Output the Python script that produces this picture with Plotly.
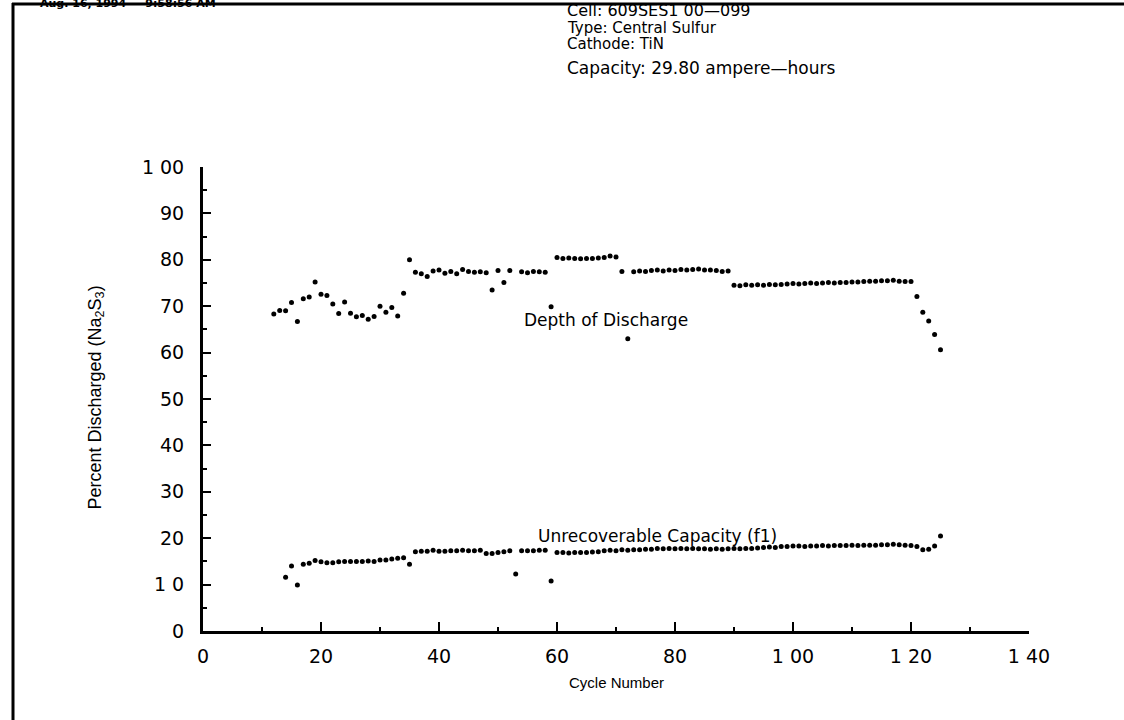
import plotly.graph_objects as go

# ---- data ----
dod_cycles = [12, 13, 14, 15, 16, 17, 18, 19, 20, 21, 22, 23, 24, 25, 26, 27, 28, 29, 30, 31,
              32, 33, 34, 35, 36, 37, 38, 39, 40, 41, 42, 43, 44, 45, 46, 47, 48, 49, 50, 51,
              52, 54, 55, 56, 57, 58, 59, 60, 61, 62, 63, 64, 65, 66, 67, 68, 69, 70, 71, 72,
              73, 74, 75, 76, 77, 78, 79, 80, 81, 82, 83, 84, 85, 86, 87, 88, 89, 90, 91, 92,
              93, 94, 95, 96, 97, 98, 99, 100, 101, 102, 103, 104, 105, 106, 107, 108, 109, 110,
              111, 112, 113, 114, 115, 116, 117, 118, 119, 120, 121, 122, 123, 124, 125]
dod_values = [68.3, 69.1, 69.0, 70.8, 66.7, 71.6, 72.0, 75.2, 72.6, 72.3, 70.5, 68.4, 70.9, 68.5,
              67.7, 68.0, 67.2, 67.8, 70.0, 68.7, 69.7, 67.9, 72.8, 80.0, 77.3, 77.0, 76.4, 77.6,
              77.8, 77.1, 77.5, 77.0, 77.9, 77.5, 77.3, 77.4, 77.2, 73.5, 77.7, 75.1, 77.7, 77.4,
              77.2, 77.5, 77.4, 77.3, 69.9, 80.5, 80.3, 80.4, 80.3, 80.2, 80.3, 80.3, 80.4, 80.5,
              80.8, 80.6, 77.5, 63.0, 77.4, 77.6, 77.5, 77.7, 77.8, 77.6, 77.8, 77.7, 77.9, 77.8,
              77.9, 78.0, 77.8, 77.8, 77.7, 77.5, 77.6, 74.5, 74.4, 74.6, 74.5, 74.6, 74.5, 74.7,
              74.6, 74.7, 74.8, 74.9, 74.8, 74.9, 75.0, 74.9, 75.0, 75.1, 75.0, 75.1, 75.1, 75.2,
              75.2, 75.3, 75.4, 75.4, 75.5, 75.5, 75.6, 75.4, 75.3, 75.3, 72.1, 68.7, 66.8, 63.9,
              60.6]

unrec_cycles = [14, 15, 16, 17, 18, 19, 20, 21, 22, 23, 24, 25, 26, 27, 28, 29, 30, 31, 32, 33,
                34, 35, 36, 37, 38, 39, 40, 41, 42, 43, 44, 45, 46, 47, 48, 49, 50, 51, 52, 53,
                54, 55, 56, 57, 58, 59, 60, 61, 62, 63, 64, 65, 66, 67, 68, 69, 70, 71, 72, 73,
                74, 75, 76, 77, 78, 79, 80, 81, 82, 83, 84, 85, 86, 87, 88, 89, 90, 91, 92, 93,
                94, 95, 96, 97, 98, 99, 100, 101, 102, 103, 104, 105, 106, 107, 108, 109, 110,
                111, 112, 113, 114, 115, 116, 117, 118, 119, 120, 121, 122, 123, 124, 125]
unrec_values = [11.6, 14.0, 9.9, 14.4, 14.6, 15.2, 14.9, 14.7, 14.7, 14.9, 15.0, 15.0, 15.0, 15.0,
                15.1, 15.0, 15.3, 15.3, 15.5, 15.7, 15.8, 14.4, 17.1, 17.2, 17.2, 17.4, 17.2, 17.2,
                17.3, 17.3, 17.4, 17.3, 17.3, 17.4, 16.7, 16.7, 16.9, 17.1, 17.3, 12.3, 17.3, 17.3,
                17.3, 17.4, 17.4, 10.8, 16.9, 16.9, 16.8, 16.9, 16.9, 16.9, 17.0, 17.1, 17.3, 17.4,
                17.3, 17.5, 17.4, 17.5, 17.5, 17.6, 17.6, 17.8, 17.7, 17.8, 17.7, 17.8, 17.7, 17.8,
                17.7, 17.7, 17.6, 17.7, 17.6, 17.7, 17.8, 17.7, 17.8, 17.8, 17.9, 18.0, 18.1, 18.0,
                18.2, 18.2, 18.3, 18.3, 18.2, 18.3, 18.3, 18.4, 18.3, 18.4, 18.4, 18.4, 18.5, 18.4,
                18.5, 18.5, 18.5, 18.6, 18.6, 18.7, 18.6, 18.5, 18.4, 18.2, 17.5, 17.6, 18.3, 20.5]

x_tick_vals = [0, 20, 40, 60, 80, 100, 120, 140]
x_tick_text = ["0", "20", "40", "60", "80", "1 00", "1 20", "1 40"]
y_tick_vals = [0, 10, 20, 30, 40, 50, 60, 70, 80, 90, 100]
y_tick_text = ["0", "1 0", "20", "30", "40", "50", "60", "70", "80", "90", "1 00"]

header_lines = ["Cell: 609SES1 00\u2014099", "Type: Central Sulfur", "Cathode: TiN",
                "Capacity: 29.80 ampere\u2014hours"]
date_text = "Aug. 16, 1994     9:58:56 AM"

# ---- layout geometry (pixels) ----
W, H = 1124, 720
L, R, T, B = 203, 95, 167, 89
PW, PH = W - L - R, H - T - B


def px(xp):
    return (xp - L) / PW


def py(yp):
    return (H - B - yp) / PH


FONT = "DejaVu Sans"

fig = go.Figure()
fig.add_trace(go.Scatter(x=dod_cycles, y=dod_values, mode="markers",
                         marker=dict(color="black", size=5), name="Depth of Discharge",
                         showlegend=False))
fig.add_trace(go.Scatter(x=unrec_cycles, y=unrec_values, mode="markers",
                         marker=dict(color="black", size=5), name="Unrecoverable Capacity (f1)",
                         showlegend=False))

ann = []
ann.append(dict(x=68.3, y=67.0, xref="x", yref="y", text="Depth of Discharge", showarrow=False,
                font=dict(family=FONT, size=17, color="black")))
ann.append(dict(x=77.0, y=20.4, xref="x", yref="y", text="Unrecoverable Capacity (f1)",
                showarrow=False, font=dict(family=FONT, size=17, color="black")))
ann.append(dict(x=px(616), y=py(693), xref="paper", yref="paper", text="Cycle Number",
                showarrow=False, font=dict(family="Liberation Sans", size=15, color="black")))
ann.append(dict(x=px(82), y=py(398), xref="paper", yref="paper",
                text="Percent Discharged (Na<sub>2</sub>S<sub>3</sub>)", textangle=-90,
                showarrow=False, font=dict(family="Liberation Sans", size=18, color="black")))
header_y = [11, 28, 44, 68]
header_sizes = [16, 15, 15, 17]
for t, yy, s in zip(header_lines, header_y, header_sizes):
    ann.append(dict(x=px(565), y=py(yy), xref="paper", yref="paper", text=t, showarrow=False,
                    xanchor="left", yanchor="middle",
                    font=dict(family=FONT, size=s, color="black")))
ann.append(dict(x=px(38), y=py(3), xref="paper", yref="paper", text="<b>" + date_text + "</b>",
                showarrow=False, xanchor="left", yanchor="middle",
                font=dict(family=FONT, size=11, color="black")))

shapes = [
    dict(type="line", xref="paper", yref="paper", x0=px(12), x1=px(W), y0=py(4), y1=py(4),
         line=dict(color="black", width=3)),
    dict(type="line", xref="paper", yref="paper", x0=px(13), x1=px(13), y0=py(3), y1=py(H),
         line=dict(color="black", width=3)),
]

fig.update_layout(
    width=W, height=H, margin=dict(l=L, r=R, t=T, b=B, autoexpand=False),
    paper_bgcolor="white", plot_bgcolor="white",
    annotations=ann, shapes=shapes, showlegend=False,
    xaxis=dict(range=[0, 140], tickvals=x_tick_vals, ticktext=x_tick_text,
               ticks="inside", ticklen=9, tickwidth=2, tickcolor="black",
               minor=dict(ticks="inside", ticklen=4, tickwidth=1.5, dtick=10, tickcolor="black"),
               showline=True, linecolor="black", linewidth=2.5, showgrid=False, zeroline=False,
               tickfont=dict(family=FONT, size=19, color="black"), ticklabelstandoff=6),
    yaxis=dict(range=[0, 100], tickvals=y_tick_vals, ticktext=y_tick_text,
               ticks="inside", ticklen=8, tickwidth=2, tickcolor="black",
               minor=dict(ticks="inside", ticklen=4, tickwidth=1.5, dtick=5, tickcolor="black"),
               showline=True, linecolor="black", linewidth=3, showgrid=False, zeroline=False,
               tickfont=dict(family=FONT, size=19, color="black"), ticklabelstandoff=12),
)

fig.write_html("out.html")
